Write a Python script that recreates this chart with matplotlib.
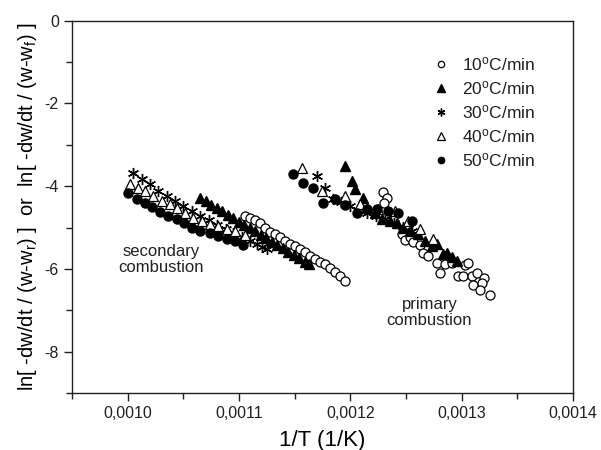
import numpy as np
import matplotlib
matplotlib.use("Agg")
import matplotlib.pyplot as plt
from matplotlib.ticker import MultipleLocator, FuncFormatter

plt.rcParams.update({
    'font.family': ['Liberation Sans', 'DejaVu Sans'],
    'mathtext.fontset': 'custom',
    'mathtext.rm': 'Liberation Sans',
    'mathtext.it': 'Liberation Sans:italic',
    'text.color': '#231f20',
    'axes.edgecolor': '#231f20',
    'xtick.color': '#231f20',
    'ytick.color': '#231f20',
})

# 10 C/min  (secondary + primary)
x10 = [0.0011053, 0.0011098, 0.0011143, 0.0011188, 0.0011233, 0.0011278, 0.0011322,
       0.0011367, 0.0011412, 0.0011457, 0.0011502, 0.0011547, 0.0011592, 0.0011637,
       0.0011682, 0.0011727, 0.0011772, 0.0011817, 0.0011861, 0.0011906, 0.0011951,
       0.0012292, 0.0012328, 0.0012301, 0.0012463, 0.0012489, 0.0012534, 0.0012561,
       0.0012624, 0.0012651, 0.0012696, 0.0012777, 0.0012804, 0.0012848, 0.0012911,
       0.0012965, 0.0013028, 0.0013055, 0.0013010, 0.0013091, 0.0013136, 0.0013199,
       0.0013100, 0.0013181, 0.0013163, 0.0013252]
y10 = [-4.72, -4.77, -4.82, -4.89, -5.01, -5.11, -5.16, -5.23, -5.33, -5.40, -5.45,
       -5.52, -5.60, -5.69, -5.77, -5.84, -5.89, -5.99, -6.08, -6.18, -6.30,
       -4.14, -4.28, -4.41, -5.16, -5.30, -5.23, -5.35, -5.43, -5.62, -5.69, -5.86,
       -6.11, -5.89, -5.86, -6.18, -5.91, -5.86, -6.18, -6.18, -6.11, -6.23, -6.38,
       -6.35, -6.50, -6.62]

# 20 C/min
x20 = [0.0010649, 0.0010703, 0.0010748, 0.0010802, 0.0010847, 0.0010900, 0.0010945,
       0.0010999, 0.0011044, 0.0011098, 0.0011143, 0.0011197, 0.0011242, 0.0011295,
       0.0011340, 0.0011394, 0.0011439, 0.0011493, 0.0011538, 0.0011592, 0.0011628,
       0.0011951, 0.0012014, 0.0012041, 0.0012112, 0.0012148, 0.0012220, 0.0012283,
       0.0012355, 0.0012418, 0.0012471, 0.0012534, 0.0012606, 0.0012669, 0.0012732,
       0.0012777, 0.0012830, 0.0012866, 0.0012911, 0.0012956]
y20 = [-4.28, -4.37, -4.45, -4.53, -4.61, -4.69, -4.77, -4.86, -4.93, -5.02, -5.09,
       -5.18, -5.25, -5.34, -5.42, -5.50, -5.58, -5.67, -5.74, -5.83, -5.89,
       -3.51, -3.87, -4.07, -4.28, -4.53, -4.65, -4.79, -4.84, -4.89, -5.01, -5.09,
       -5.16, -5.33, -5.45, -5.40, -5.64, -5.62, -5.72, -5.82]

# 30 C/min
x30 = [0.0010048, 0.0010128, 0.0010200, 0.0010272, 0.0010353, 0.0010425, 0.0010496,
       0.0010577, 0.0010649, 0.001073, 0.001080, 0.001088, 0.001095, 0.001103,
       0.001110, 0.001116, 0.001121, 0.001125,
       0.0011699, 0.0011771, 0.0011843, 0.0011915, 0.0011996, 0.0012067, 0.0012148,
       0.0012229, 0.0012310, 0.0012391, 0.0012471, 0.0012552]
y30 = [-3.68, -3.82, -3.94, -4.11, -4.24, -4.36, -4.48, -4.60, -4.72, -4.82, -4.93,
       -5.04, -5.13, -5.23, -5.33, -5.41, -5.48, -5.53,
       -3.75, -4.04, -4.31, -4.38, -4.48, -4.58, -4.65, -4.72, -4.79, -4.89, -4.99,
       -5.09]

# 40 C/min
x40 = [0.0010021, 0.0010092, 0.0010155, 0.0010227, 0.0010308, 0.0010380, 0.0010443,
       0.0010514, 0.0010586, 0.0010667, 0.001074, 0.001081, 0.001089, 0.001096,
       0.001105,
       0.0011565, 0.0011744, 0.0011951, 0.0012085, 0.0012247, 0.0012400, 0.0012516,
       0.0012624, 0.0012741]
y40 = [-3.94, -4.04, -4.11, -4.24, -4.36, -4.43, -4.53, -4.65, -4.77, -4.84, -4.92,
       -4.96, -5.04, -5.09, -5.18,
       -3.55, -4.11, -4.24, -4.43, -4.55, -4.60, -4.84, -5.04, -5.28]

# 50 C/min
x50 = [0.0010003, 0.0010084, 0.0010155, 0.0010218, 0.0010290, 0.0010362, 0.0010443,
       0.0010505, 0.0010577, 0.0010649, 0.001074, 0.001081, 0.001089, 0.001096,
       0.001104,
       0.0011484, 0.0011574, 0.0011664, 0.0011753, 0.0011861, 0.0011951, 0.0012059,
       0.0012148, 0.0012238, 0.0012337, 0.0012427, 0.0012552]
y50 = [-4.16, -4.31, -4.41, -4.50, -4.62, -4.72, -4.79, -4.89, -5.01, -5.09, -5.13,
       -5.21, -5.28, -5.33, -5.43,
       -3.70, -3.92, -4.04, -4.41, -4.31, -4.45, -4.65, -4.55, -4.55, -4.60, -4.65,
       -4.84]

fig = plt.figure(figsize=(6.01, 4.5), dpi=100)
ax = fig.add_axes([0.1198, 0.1267, 0.8336, 0.8273])

ms = 6.5
ax.plot(x10, y10, 'o', ms=ms, mfc='white', mec='black', mew=0.9, ls='none', label='10$^{\\mathrm{o}}$C/min')
ax.plot(x20, y20, '^', ms=ms + 1, mfc='black', mec='black', ls='none', label='20$^{\\mathrm{o}}$C/min')
ax.plot(x30, y30, marker=(6, 2, 0), ms=ms + 1.5, color='black', mew=1.0, ls='none', label='30$^{\\mathrm{o}}$C/min')
ax.plot(x40, y40, '^', ms=ms + 1, mfc='white', mec='black', mew=0.9, ls='none', label='40$^{\\mathrm{o}}$C/min')
ax.plot(x50, y50, 'o', ms=ms, mfc='black', mec='black', ls='none', label='50$^{\\mathrm{o}}$C/min')

ax.set_xlim(0.00095, 0.0014)
ax.set_ylim(-9, 0)
ax.xaxis.set_major_locator(MultipleLocator(0.0001))
ax.xaxis.set_minor_locator(MultipleLocator(0.00005))
ax.yaxis.set_major_locator(MultipleLocator(2))
ax.yaxis.set_minor_locator(MultipleLocator(1))
ax.xaxis.set_major_formatter(FuncFormatter(lambda v, p: ('%.4f' % v).replace('.', ',')))
ax.yaxis.set_major_formatter(FuncFormatter(lambda v, p: '%d' % round(v)))
ax.tick_params(which='major', direction='out', length=6, width=1, labelsize=11.5)
ax.tick_params(which='minor', direction='out', length=4, width=1)
ax.tick_params(top=False, right=False)
for s in ax.spines.values():
    s.set_linewidth(1)

ax.set_xlabel('1/T (1/K)', fontsize=16, labelpad=6)
ax.set_ylabel('ln[ -dw/dt / (w-w$_{\\mathrm{r}}$) ]  or  ln[ -dw/dt / (w-w$_{\\mathrm{f}}$) ]', fontsize=14.5, labelpad=4)

ax.text(0.001030, -5.78, 'secondary\ncombustion', fontsize=12, ha='center', va='center', linespacing=1.1)
ax.text(0.001271, -7.05, 'primary\ncombustion', fontsize=12, ha='center', va='center', linespacing=1.1)

leg = ax.legend(loc='upper right', bbox_to_anchor=(0.955, 0.95), frameon=False, fontsize=12.5,
                markerscale=0.7, handletextpad=0.6, labelspacing=0.35, handlelength=1.2)

fig.savefig('out.png', dpi=100)
